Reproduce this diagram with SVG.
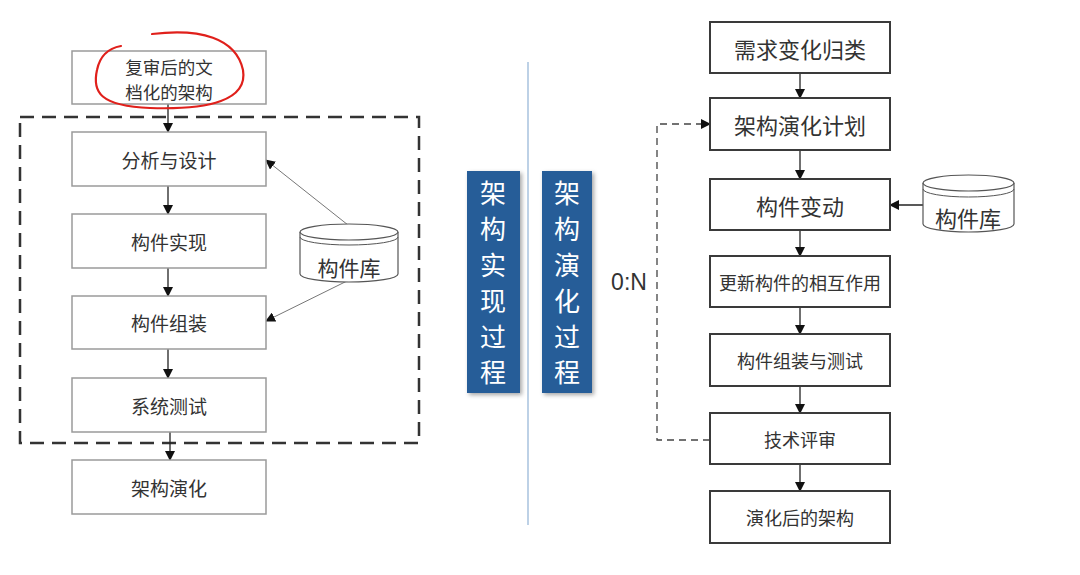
<svg xmlns="http://www.w3.org/2000/svg" width="1080" height="575" viewBox="0 0 1080 575">
<defs>
<marker id="ah" markerWidth="10" markerHeight="10" refX="9" refY="5" orient="auto" markerUnits="userSpaceOnUse"><path d="M0,0 L10,5 L0,10 Z" fill="#111"/></marker>
<filter id="sh" x="-20%" y="-10%" width="140%" height="120%"><feDropShadow dx="2" dy="2" stdDeviation="2" flood-color="#000" flood-opacity="0.35"/></filter>
</defs>
<style>
text{font-family:"Noto Sans CJK SC","Liberation Sans",sans-serif;fill:#333;text-anchor:middle;dominant-baseline:central}
.lb{fill:#fff;stroke:#9a9a9a;stroke-width:1.5}
.rb{fill:#fff;stroke:#3a3a3a;stroke-width:2}
.ln{stroke:#222;stroke-width:1.3;fill:none}
.thin{stroke:#777;stroke-width:1;fill:none}
.cyl{fill:#fff;stroke:#555;stroke-width:1.2}
.v{fill:#fff;font-size:26px}
</style>
<rect width="1080" height="575" fill="#fff"/>
<line x1="528" y1="62" x2="528" y2="525" stroke="#a7c2de" stroke-width="1.5"/>
<g id="dashed-frame"><rect x="20" y="117" width="399" height="326" fill="none" stroke="#333" stroke-width="2.5" stroke-dasharray="14,8"/></g>
<g id="connectors">
<line class="ln" x1="168" y1="104" x2="168" y2="132" marker-end="url(#ah)"/>
<line class="ln" x1="168" y1="186" x2="168" y2="214" marker-end="url(#ah)"/>
<line class="ln" x1="168" y1="268" x2="168" y2="296" marker-end="url(#ah)"/>
<line class="ln" x1="168" y1="349" x2="168" y2="378" marker-end="url(#ah)"/>
<line class="ln" x1="170" y1="432" x2="170" y2="460" marker-end="url(#ah)"/>
<line class="thin" x1="348" y1="225" x2="266" y2="160" marker-end="url(#ah)"/>
<line class="thin" x1="347" y1="281" x2="266" y2="321" marker-end="url(#ah)"/>
<line class="ln" x1="800" y1="73" x2="800" y2="98" marker-end="url(#ah)"/>
<line class="ln" x1="800" y1="150" x2="800" y2="179" marker-end="url(#ah)"/>
<line class="ln" x1="800" y1="230" x2="800" y2="256" marker-end="url(#ah)"/>
<line class="ln" x1="800" y1="307" x2="800" y2="334" marker-end="url(#ah)"/>
<line class="ln" x1="800" y1="386" x2="800" y2="413" marker-end="url(#ah)"/>
<line class="ln" x1="800" y1="464" x2="800" y2="491" marker-end="url(#ah)"/>
<line class="ln" x1="923" y1="205" x2="890" y2="205" marker-end="url(#ah)"/>
<polyline points="710,440 657,440 657,124 710,124" fill="none" stroke="#444" stroke-width="1.3" stroke-dasharray="7,5" marker-end="url(#ah)"/>
</g>
<g id="n-doc"><rect class="lb" x="72" y="51" width="194" height="53"/><text font-size="17.5"><tspan x="169" y="65.5">复审后的文</tspan><tspan x="169" y="91">档化的架构</tspan></text></g>
<g id="n-analysis"><rect class="lb" x="72" y="132" width="194" height="54"/><text x="169" y="159" font-size="19">分析与设计</text></g>
<g id="n-impl"><rect class="lb" x="72" y="214" width="194" height="54"/><text x="169" y="241" font-size="19">构件实现</text></g>
<g id="n-assemble"><rect class="lb" x="72" y="296" width="194" height="53"/><text x="169" y="322" font-size="19">构件组装</text></g>
<g id="n-systest"><rect class="lb" x="72" y="378" width="194" height="54"/><text x="169" y="405" font-size="19">系统测试</text></g>
<g id="n-evolve"><rect class="lb" x="72" y="460" width="194" height="54"/><text x="169" y="487" font-size="19">架构演化</text></g>
<g id="n-lib-left"><path class="cyl" d="M300,232 L300,274 A49,8 0 0 0 398,274 L398,232"/><ellipse class="cyl" cx="349" cy="232" rx="49" ry="8"/><path d="M300,237 A49,8 0 0 0 398,237" fill="none" stroke="#555" stroke-width="1"/><text x="349" y="267" font-size="21">构件库</text></g>
<path id="red-mark" d="M152,34 C200,28 236,38 243,70 C248,100 210,110 150,108 C100,106 92,92 97,70 C100,55 110,48 121,46" fill="none" stroke="#e0201b" stroke-width="2.2" stroke-linecap="round"/>
<g id="band-impl"><rect x="467" y="171" width="53" height="222" fill="#285d98" filter="url(#sh)"/><text class="v"><tspan x="493" y="191">架</tspan><tspan x="493" y="227">构</tspan><tspan x="493" y="263">实</tspan><tspan x="493" y="299">现</tspan><tspan x="493" y="335">过</tspan><tspan x="493" y="370">程</tspan></text></g>
<g id="band-evo"><rect x="542" y="171" width="50" height="222" fill="#285d98" filter="url(#sh)"/><text class="v"><tspan x="567" y="191">架</tspan><tspan x="567" y="227">构</tspan><tspan x="567" y="263">演</tspan><tspan x="567" y="299">化</tspan><tspan x="567" y="335">过</tspan><tspan x="567" y="370">程</tspan></text></g>
<text x="629" y="282" font-size="23" style="font-family:'Liberation Sans','Noto Sans',sans-serif">0:N</text>
<g id="r-req"><rect class="rb" x="710" y="22" width="180" height="51"/><text x="800" y="48" font-size="22">需求变化归类</text></g>
<g id="r-plan"><rect class="rb" x="710" y="98" width="180" height="52"/><text x="800" y="124" font-size="22">架构演化计划</text></g>
<g id="r-change"><rect class="rb" x="710" y="179" width="180" height="51"/><text x="800" y="205" font-size="22">构件变动</text></g>
<g id="r-update"><rect class="rb" x="710" y="256" width="180" height="51"/><text x="800" y="282" font-size="18">更新构件的相互作用</text></g>
<g id="r-test"><rect class="rb" x="710" y="334" width="180" height="52"/><text x="800" y="360" font-size="18">构件组装与测试</text></g>
<g id="r-review"><rect class="rb" x="710" y="413" width="180" height="51"/><text x="800" y="439" font-size="18">技术评审</text></g>
<g id="r-result"><rect class="rb" x="710" y="491" width="180" height="52"/><text x="800" y="517" font-size="18">演化后的架构</text></g>
<g id="n-lib-right"><path class="cyl" d="M923,183 L923,224 A45.5,8 0 0 0 1014,224 L1014,183"/><ellipse class="cyl" cx="968.5" cy="183" rx="45.5" ry="8"/><path d="M923,189 A45.5,8 0 0 0 1014,189" fill="none" stroke="#555" stroke-width="1"/><text x="968" y="217" font-size="22">构件库</text></g>
</svg>
